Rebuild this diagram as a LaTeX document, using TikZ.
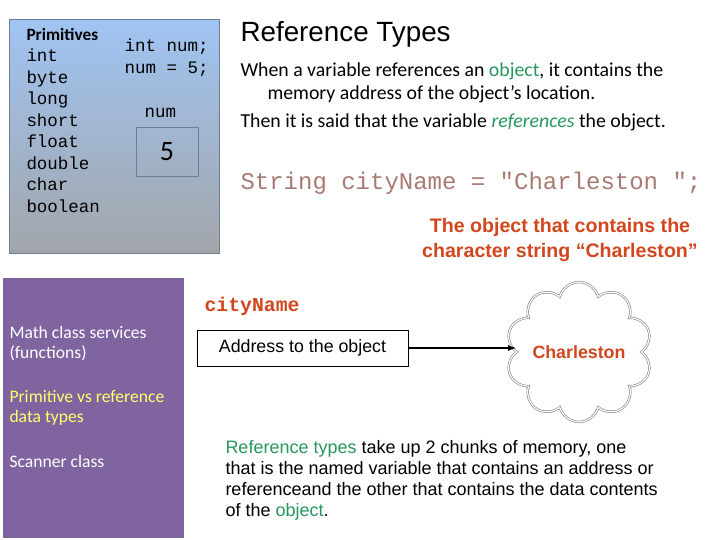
\documentclass[tikz,border=0pt]{standalone}
\usepackage{fontspec}
\setmainfont{Carlito}
\newfontfamily\arialfont{Liberation Sans}
\newfontfamily\courierfont{Liberation Mono}
\usetikzlibrary{shapes.symbols,arrows.meta}

\definecolor{slideblue}{RGB}{160,196,242}
\definecolor{slidegrey}{RGB}{162,166,170}
\definecolor{boxedge}{RGB}{108,126,152}
\definecolor{menupurple}{RGB}{128,100,160}
\definecolor{menuyellow}{RGB}{255,255,110}
\definecolor{hotred}{RGB}{210,70,30}
\definecolor{javagreen}{RGB}{40,150,90}
\definecolor{codebrown}{RGB}{168,122,115}

\tikzset{
  txt/.style={anchor=base west, inner sep=0pt, align=left},
  mono/.style={txt, font=\courierfont\fontsize{17.5}{21.6}\selectfont},
  body/.style={txt, font=\fontsize{19.8}{20}\selectfont},
  menu/.style={txt, font=\fontsize{17.6}{20}\selectfont, text=white},
  arial/.style={font=\arialfont\fontsize{#1}{#1}\selectfont},
}

\begin{document}
\begin{tikzpicture}[x=1pt, y=-1pt, line width=1pt]
\useasboundingbox (0,0) rectangle (720,540);

\shade[top color=slideblue, bottom color=slidegrey, draw=boxedge] (9,20) rectangle (219,253);
\fill[menupurple] (3,278) rectangle (184,538);

\node[txt, font=\bfseries\fontsize{17.3}{17}\selectfont] (primhead) at (26,41) {Primitives};
\foreach \name [count=\i] in {int,byte,long,short,float,double,char,boolean}
  \node[mono] (prim\i) at (26,{62+21.5*(\i-1)}) {\name};

\node[mono] (decl) at (124,73.6) {int num;\\num = 5;};
\node[mono] (numlabel) at (144,118) {num};
\node[draw=boxedge, line width=0.8pt, minimum width=62, minimum height=49,
  font=\fontsize{28}{28}\selectfont] (numbox) at (167,151.5) {5};

\node[txt, arial=27.8] (title) at (240,42) {Reference Types};
\node[body] (intro) at (240,77) {When a variable references an \textcolor{javagreen}{object}, it contains the};
\node[body] (intro2) at (267,100) {memory address of the object’s location.};
\node[body] (then) at (240,128) {Then it is said that the variable \textcolor{javagreen}{\itshape references} the object.};

\node[txt, font=\courierfont\fontsize{24}{24}\selectfont, text=codebrown] (code) at (240,190) {String cityName = "Charleston ";};

\node[anchor=base, inner sep=0pt, align=center, text=hotred,
  font=\arialfont\bfseries\fontsize{19.6}{25}\selectfont] (objnote) at (560,258)
  {The object that contains the\\character string “Charleston”};

\node[menu] (mathsvc) at (9,358) {Math class services\\(functions)};
\node[menu, text=menuyellow] (primref) at (9,422) {Primitive vs reference\\data types};
\node[menu] (scanner) at (9,467) {Scanner class};

\node[txt, font=\courierfont\bfseries\fontsize{19.8}{20}\selectfont, text=hotred] (varname) at (204,311) {cityName};

\node[draw, line width=0.8pt, minimum width=211, minimum height=36, arial=17.8] (addr) at (302.5,348) {Address to the object};

\node[cloud, cloud puffs=10, cloud ignores aspect, draw=gray, double=white, double distance=1.2pt, line width=0.6pt,
  inner sep=0pt, minimum width=146, minimum height=140,
  label={[text=hotred, font=\arialfont\bfseries\fontsize{17.8}{17}\selectfont]center:Charleston}] (obj) at (579,352) {};

\draw[-{Latex[length=8pt,width=6pt]}, line width=1.3pt] (addr.east) -- (addr.east -| obj.west);

\node[txt, font=\arialfont\fontsize{18}{21}\selectfont] (refnote) at (225,516)
  {\textcolor{javagreen}{Reference types} take up 2 chunks of memory, one\\
   that is the named variable that contains an address or\\
   referenceand the other that contains the data contents\\
   of the \textcolor{javagreen}{object}.};

\end{tikzpicture}
\end{document}
